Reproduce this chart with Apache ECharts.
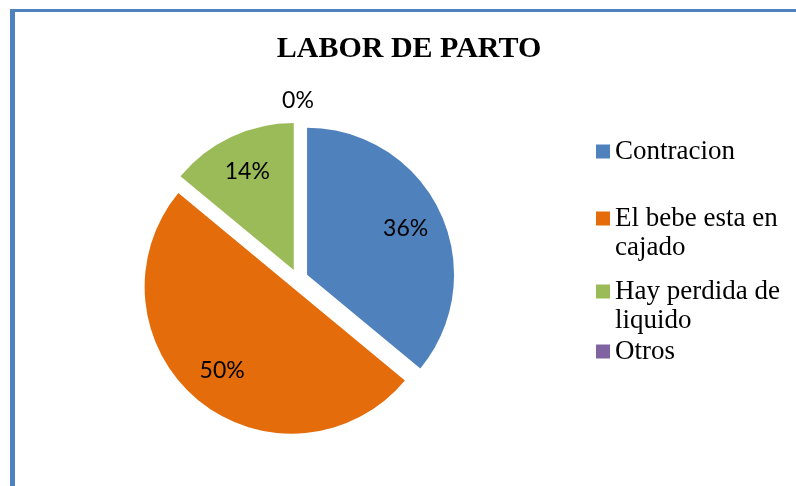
<!DOCTYPE html>
<html>
<head>
<meta charset="utf-8">
<script src="https://cdn.jsdelivr.net/npm/echarts@6/dist/echarts.min.js"></script>
<style>
  html, body { margin: 0; padding: 0; background: #fff; }
  #main { width: 796px; height: 486px; }
</style>
</head>
<body>
<div id="main"></div>
<script>
// datos del grafico
const categories = ['Contracion', 'El bebe esta en cajado', 'Hay perdida de liquido', 'Otros'];
const legendLabels = ['Contracion', 'El bebe esta en\ncajado', 'Hay perdida de\nliquido', 'Otros'];
const values = [36, 50, 14, 0];
const colors = ['#4f81bd', '#e46c0a', '#9bbb59', '#8064a2'];

// espacio extra (vertical) de cada entrada de la leyenda
const legendPad = [23, 0, 0, 16];

const lineH = 29;
const pieCenter = [298, 279];
const pieR = 147;

let chart = echarts.init(document.getElementById('main'));

// serie visible: sectores (solo la etiqueta del 0% va afuera)
const pieData = categories.map((name, i) => {
  return {
    name: name,
    value: values[i],
    selected: true,
    itemStyle: { color: colors[i] },
    label: { show: values[i] === 0 }
  };
});

// serie transparente: solo lleva las etiquetas interiores
const labelData = categories.map((name, i) => {
  return {
    name: name,
    value: values[i],
    selected: true,
    label: { show: values[i] !== 0 }
  };
});

// leyenda: con una linea vacia arriba, la marca queda junto a la primera linea
const legendData = categories.map((name, i) => {
  return {
    name: name,
    textStyle: { padding: [legendPad[i], 0, legendPad[i], 0] }
  };
});

const option = {
  animation: false,
  title: {
    text: 'LABOR DE PARTO',
    left: 404,
    top: 29,
    textAlign: 'center',
    textStyle: {
      fontFamily: 'Liberation Serif',
      fontWeight: 'bold',
      fontSize: 30,
      color: '#000'
    }
  },
  legend: {
    orient: 'vertical',
    left: 596,
    top: 114,
    padding: 0,
    icon: 'rect',
    itemWidth: 14,
    itemHeight: 14,
    itemGap: -14,
    selectedMode: false,
    data: legendData,
    formatter: name => {
      let txt = legendLabels[categories.indexOf(name)];
      return txt.indexOf('\n') >= 0 ? '\n' + txt : txt;
    },
    textStyle: {
      fontFamily: 'Liberation Serif',
      fontSize: 27,
      lineHeight: lineH,
      color: '#000',
      backgroundColor: 'rgba(0,0,0,0)'
    }
  },
  graphic: [
    { type: 'rect', shape: { x: 10, y: 9, width: 786, height: 3 }, style: { fill: '#4f81bd' }, silent: true },
    { type: 'rect', shape: { x: 10, y: 9, width: 5, height: 477 }, style: { fill: '#4f81bd' }, silent: true }
  ],
  series: [
    {
      name: 'LABOR DE PARTO',
      type: 'pie',
      center: pieCenter,
      radius: pieR,
      selectedMode: 'multiple',
      selectedOffset: 10,
      emphasis: { scale: false },
      label: {
        position: 'outside',
        formatter: '{d}%',
        fontFamily: 'Lato',
        fontSize: 23,
        color: '#000',
        distanceToLabelLine: 0
      },
      labelLine: { show: false, length: 21, length2: 0 },
      labelLayout: { align: 'center' },
      data: pieData
    },
    {
      name: 'etiquetas',
      type: 'pie',
      z: 3,
      center: pieCenter,
      radius: [65, pieR],
      selectedMode: 'multiple',
      selectedOffset: 10,
      silent: true,
      itemStyle: { color: 'rgba(0,0,0,0)' },
      emphasis: { scale: false },
      label: {
        show: true,
        position: 'inside',
        formatter: '{d}%',
        fontFamily: 'Lato',
        fontSize: 23,
        color: '#000'
      },
      labelLine: { show: false },
      data: labelData
    }
  ]
};

chart.setOption(option);
</script>
</body>
</html>
